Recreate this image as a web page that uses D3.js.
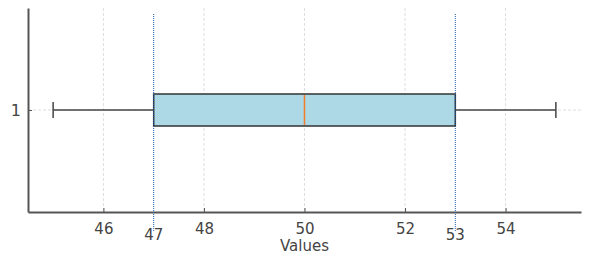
<!DOCTYPE html>
<html lang="en">
<head>
    <title>Box Plot</title>
    <script src="https://d3js.org/d3.v7.min.js"></script>
    <style>
        body { margin: 0; background: #fff; }
        text { font-family: "DejaVu Sans", sans-serif; fill: #444; }
    </style>
</head>
<body>
    <svg id="plot"></svg>

    <script>
        // box summary (one row)
        var categories = ["1"];
        var whiskerLow = [45];
        var q1 = [47];
        var medians = [50];
        var q3 = [53];
        var whiskerHigh = [55];

        var xTicks = [46, 48, 50, 52, 54];
        var markLines = [47, 53];

        var margin = { top: 8, right: 19, bottom: 51, left: 28 };
        var width = 600 - margin.left - margin.right;
        var height = 263 - margin.top - margin.bottom;

        var svg = d3.select("#plot")
            .attr("width", 600)
            .attr("height", 263)
            .append("g")
            .attr("transform", "translate(" + margin.left + "," + margin.top + ")");

        var xScale = d3.scaleLinear().domain([44.5, 55.5]).range([0, width]);
        var yScale = d3.scalePoint().domain(categories).range([0, height]).padding(0.5);

        // grid
        svg.append("g")
            .selectAll("line")
            .data(xTicks)
            .enter().append("line")
            .attr("x1", function (d) { return xScale(d); })
            .attr("x2", function (d) { return xScale(d); })
            .attr("y1", 0)
            .attr("y2", height)
            .attr("stroke", "#ddd")
            .attr("stroke-dasharray", "3,2");

        svg.append("g")
            .selectAll("line")
            .data(categories)
            .enter().append("line")
            .attr("x1", 0)
            .attr("x2", width)
            .attr("y1", function (d) { return yScale(d); })
            .attr("y2", function (d) { return yScale(d); })
            .attr("stroke", "#ddd")
            .attr("stroke-dasharray", "3,2");

        var boxH = 32;
        var capH = 16;

        var rows = categories.map(function (c, i) {
            return { cat: c, lo: whiskerLow[i], q1: q1[i], med: medians[i], q3: q3[i], hi: whiskerHigh[i] };
        });

        var g = svg.selectAll(".box").data(rows).enter().append("g").attr("class", "box");

        // whiskers
        g.append("line")
            .attr("x1", function (d) { return xScale(d.lo); })
            .attr("x2", function (d) { return xScale(d.q1); })
            .attr("y1", function (d) { return yScale(d.cat); })
            .attr("y2", function (d) { return yScale(d.cat); })
            .attr("stroke", "#444").attr("stroke-width", 1.5);
        g.append("line")
            .attr("x1", function (d) { return xScale(d.q3); })
            .attr("x2", function (d) { return xScale(d.hi); })
            .attr("y1", function (d) { return yScale(d.cat); })
            .attr("y2", function (d) { return yScale(d.cat); })
            .attr("stroke", "#444").attr("stroke-width", 1.5);

        // caps
        ["lo", "hi"].forEach(function (k) {
            g.append("line")
                .attr("x1", function (d) { return xScale(d[k]); })
                .attr("x2", function (d) { return xScale(d[k]); })
                .attr("y1", function (d) { return yScale(d.cat) - capH / 2; })
                .attr("y2", function (d) { return yScale(d.cat) + capH / 2; })
                .attr("stroke", "#444").attr("stroke-width", 1.5);
        });

        // box
        g.append("rect")
            .attr("x", function (d) { return xScale(d.q1); })
            .attr("width", function (d) { return xScale(d.q3) - xScale(d.q1); })
            .attr("y", function (d) { return yScale(d.cat) - boxH / 2; })
            .attr("height", boxH)
            .attr("fill", "#add8e6")
            .attr("stroke", "#333")
            .attr("stroke-width", 1.5);

        // median
        g.append("line")
            .attr("x1", function (d) { return xScale(d.med); })
            .attr("x2", function (d) { return xScale(d.med); })
            .attr("y1", function (d) { return yScale(d.cat) - boxH / 2 + 1; })
            .attr("y2", function (d) { return yScale(d.cat) + boxH / 2 - 1; })
            .attr("stroke", "#f07f2e").attr("stroke-width", 1.5);

        // axes
        var xAxis = svg.append("g")
            .attr("transform", "translate(0," + height + ")")
            .call(d3.axisBottom(xScale).tickValues(xTicks).tickSizeInner(-4).tickSizeOuter(0)
                .tickPadding(11).tickFormat(d3.format("d")));
        xAxis.select(".domain").attr("stroke", "#555").attr("stroke-width", 2);
        xAxis.selectAll(".tick line").attr("stroke", "#555");
        xAxis.selectAll("text").style("font-size", "15px").attr("fill", "#444");

        var yAxis = svg.append("g")
            .call(d3.axisLeft(yScale).tickSizeInner(-4).tickSizeOuter(0).tickPadding(7));
        yAxis.select(".domain").attr("stroke", "#555").attr("stroke-width", 2);
        yAxis.selectAll(".tick line").attr("stroke", "#555");
        yAxis.selectAll("text").style("font-size", "16px").attr("fill", "#444");

        // reference lines at the quartiles
        svg.append("g")
            .selectAll("line")
            .data(markLines)
            .enter().append("line")
            .attr("x1", function (d) { return xScale(d); })
            .attr("x2", function (d) { return xScale(d); })
            .attr("y1", 6)
            .attr("y2", height + 20)
            .attr("stroke", "#1f5fa8")
            .attr("stroke-width", 1)
            .attr("stroke-dasharray", "1,1");

        svg.append("g")
            .selectAll("text")
            .data(markLines)
            .enter().append("text")
            .attr("x", function (d) { return xScale(d); })
            .attr("y", height + 28)
            .attr("text-anchor", "middle")
            .style("font-size", "15px")
            .attr("fill", "#3a4656")
            .text(function (d) { return d; });

        svg.append("text")
            .attr("x", width / 2)
            .attr("y", height + 39)
            .attr("text-anchor", "middle")
            .style("font-size", "15px")
            .text("Values");
    </script>
</body>
</html>
